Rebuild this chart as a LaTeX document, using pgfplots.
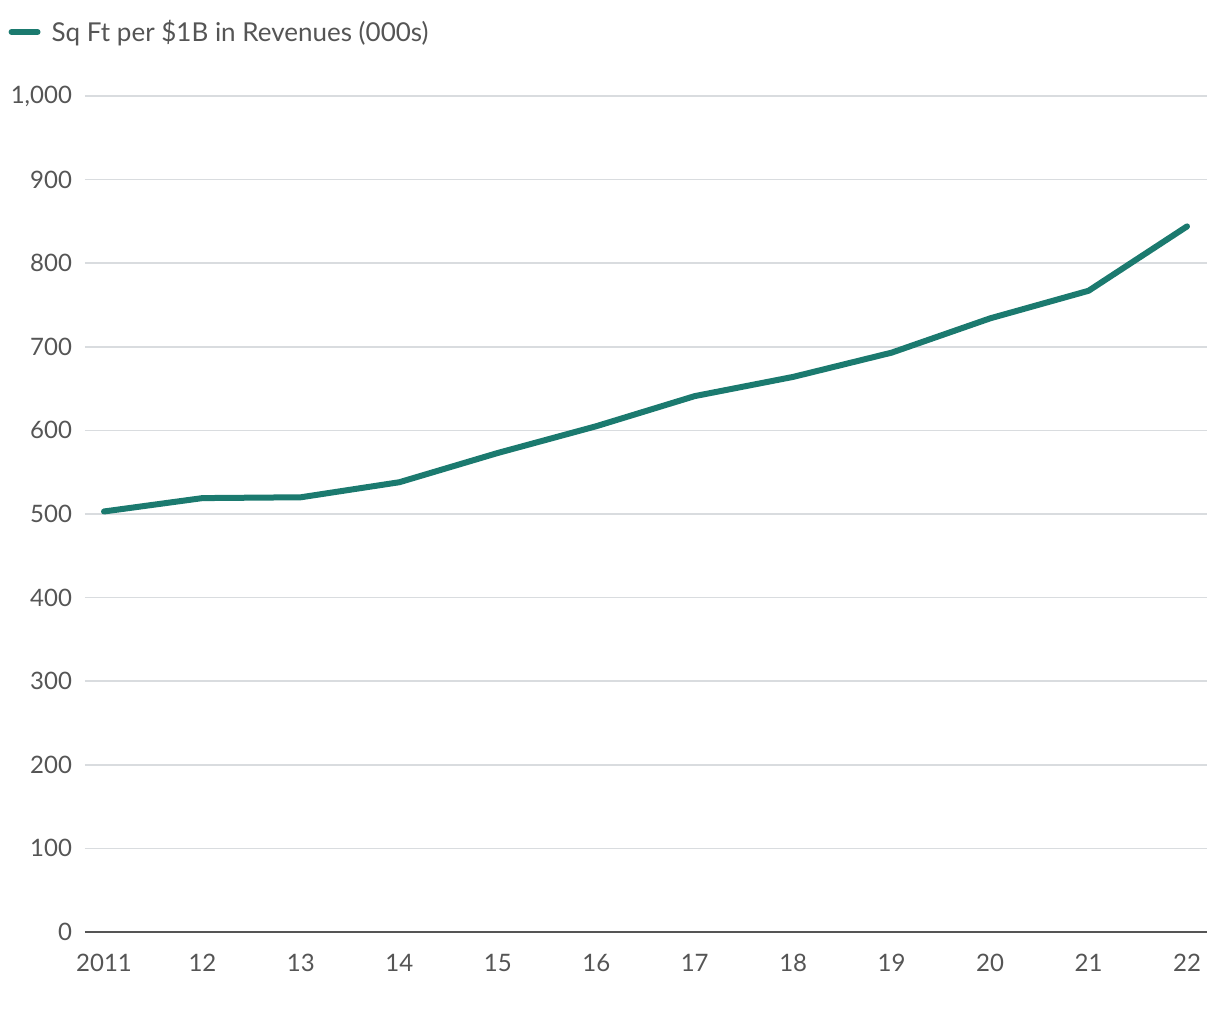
\documentclass[border=0pt]{standalone}
\usepackage{fontspec}
\setmainfont{Lato}
\usepackage{pgfplots}
\pgfplotsset{compat=1.18}
\definecolor{teal1}{HTML}{1B7A6F}
\definecolor{txt}{HTML}{555555}
\definecolor{gridc}{HTML}{D9DCDF}
\begin{document}
\begin{tikzpicture}
\path[use as bounding box] (-42.5pt,-44pt) rectangle (567.5pt,466pt);
\begin{axis}[
  at={(0,0)}, anchor=south west,
  scale only axis, width=561pt, height=418pt,
  xmin=-0.193, xmax=11.203, ymin=0, ymax=1000,
  axis line style={draw=none},
  ytick={0,100,...,1000},
  xtick={0,...,11},
  xticklabels={2011,12,13,14,15,16,17,18,19,20,21,22},
  ymajorgrids, grid style={gridc, line width=0.75pt},
  major tick length=0pt,
  tick label style={font=\fontsize{12}{15}\selectfont, text=txt},
  /pgf/number format/assume math mode=true,
  /pgf/number format/1000 sep={,},
  yticklabel style={xshift=-3pt},
  xticklabel style={yshift=-7.5pt},
  legend style={at={(axis description cs:-0.0685,1.0766)}, anchor=west, draw=none, fill=none,
    inner sep=0pt, font=\fontsize{13}{15}\selectfont, text=txt,
    /tikz/every even column/.append style={column sep=0pt}},
  legend image code/.code={\draw[#1, line cap=round] (0pt,0pt) -- (13pt,0pt);},
  legend cell align=left,
  clip=false,
]
\draw[txt, line width=1pt] (axis cs:-0.193,0) -- (axis cs:11.203,0);
\addplot[teal1, line width=3pt, line join=round, line cap=round] coordinates {
(0,503) (1,519) (2,520) (3,538) (4,573) (5,605) (6,641) (7,664) (8,693) (9,734) (10,767) (11,844)};
\addlegendentry{\hspace{3.5pt}Sq Ft per \$1B in Revenues (000s)}
\end{axis}
\end{tikzpicture}
\end{document}
